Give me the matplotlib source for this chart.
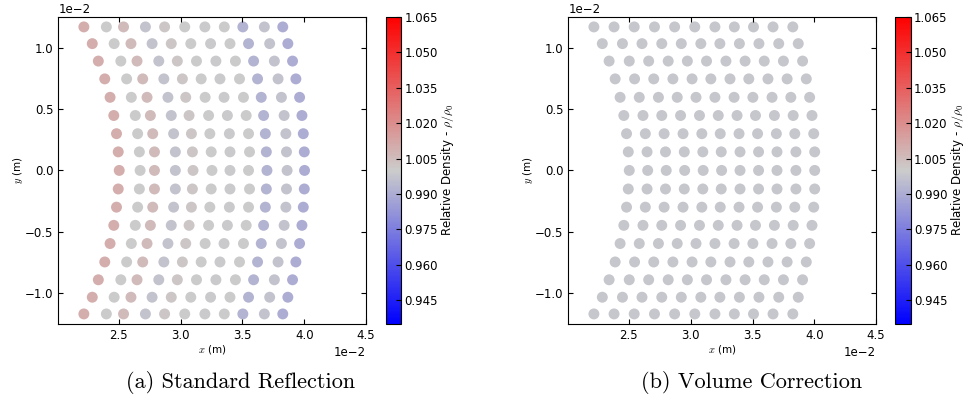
import matplotlib
matplotlib.use("Agg")
import matplotlib.pyplot as plt
import numpy as np
from matplotlib.colors import LinearSegmentedColormap, Normalize

plt.rcParams['mathtext.fontset'] = 'cm'

# particle rows (y, units of 1e-2 m), top to bottom
row_y = [1.168, 1.032, 0.890, 0.745, 0.595, 0.447, 0.299, 0.151, 0.0,
         -0.151, -0.299, -0.447, -0.595, -0.745, -0.890, -1.032, -1.168]

# x positions (units of 1e-2 m), one list per row, standard reflection
x_std = [
    [2.217, 2.399, 2.538, 2.715, 2.870, 3.033, 3.196, 3.353, 3.503, 3.677, 3.826],
    [2.285, 2.462, 2.598, 2.769, 2.924, 3.082, 3.242, 3.399, 3.549, 3.720, 3.867],
    [2.334, 2.516, 2.647, 2.823, 2.973, 3.128, 3.285, 3.443, 3.590, 3.758, 3.905],
    [2.386, 2.563, 2.693, 2.864, 3.014, 3.166, 3.318, 3.476, 3.622, 3.788, 3.932],
    [2.429, 2.601, 2.728, 2.897, 3.041, 3.198, 3.351, 3.508, 3.652, 3.815, 3.962],
    [2.459, 2.633, 2.755, 2.924, 3.068, 3.226, 3.378, 3.530, 3.671, 3.837, 3.981],
    [2.481, 2.652, 2.774, 2.943, 3.087, 3.236, 3.394, 3.549, 3.685, 3.851, 3.992],
    [2.495, 2.666, 2.788, 2.957, 3.095, 3.247, 3.399, 3.557, 3.693, 3.856, 4.000],
    [2.503, 2.672, 2.788, 2.957, 3.100, 3.253, 3.399, 3.549, 3.698, 3.861, 4.002],
    [2.495, 2.666, 2.788, 2.957, 3.095, 3.247, 3.399, 3.557, 3.693, 3.856, 4.000],
    [2.481, 2.652, 2.774, 2.943, 3.087, 3.236, 3.394, 3.549, 3.685, 3.851, 3.992],
    [2.459, 2.633, 2.755, 2.924, 3.068, 3.226, 3.378, 3.530, 3.671, 3.837, 3.981],
    [2.429, 2.601, 2.728, 2.897, 3.041, 3.198, 3.351, 3.508, 3.652, 3.815, 3.962],
    [2.386, 2.563, 2.693, 2.864, 3.014, 3.166, 3.318, 3.476, 3.622, 3.788, 3.932],
    [2.334, 2.516, 2.647, 2.823, 2.973, 3.128, 3.285, 3.443, 3.590, 3.758, 3.905],
    [2.285, 2.462, 2.598, 2.769, 2.924, 3.082, 3.242, 3.399, 3.549, 3.720, 3.867],
    [2.217, 2.399, 2.538, 2.715, 2.870, 3.033, 3.196, 3.353, 3.503, 3.677, 3.826],
]

# x positions, volume correction
x_vol = [
    [2.217, 2.380, 2.543, 2.707, 2.870, 3.033, 3.196, 3.353, 3.508, 3.666, 3.826],
    [2.285, 2.448, 2.606, 2.766, 2.924, 3.082, 3.236, 3.394, 3.552, 3.712, 3.870],
    [2.340, 2.503, 2.660, 2.818, 2.973, 3.128, 3.285, 3.440, 3.595, 3.750, 3.905],
    [2.389, 2.546, 2.701, 2.856, 3.011, 3.163, 3.318, 3.470, 3.625, 3.780, 3.935],
    [2.429, 2.584, 2.739, 2.891, 3.043, 3.196, 3.351, 3.503, 3.658, 3.810, 3.962],
    [2.459, 2.614, 2.766, 2.918, 3.071, 3.223, 3.375, 3.524, 3.677, 3.829, 3.981],
    [2.481, 2.633, 2.785, 2.938, 3.090, 3.239, 3.391, 3.541, 3.693, 3.842, 3.995],
    [2.495, 2.647, 2.796, 2.948, 3.098, 3.247, 3.399, 3.549, 3.698, 3.851, 4.003],
    [2.503, 2.652, 2.802, 2.951, 3.101, 3.250, 3.399, 3.549, 3.698, 3.851, 4.003],
    [2.495, 2.647, 2.796, 2.948, 3.098, 3.247, 3.399, 3.549, 3.698, 3.851, 4.003],
    [2.481, 2.633, 2.785, 2.938, 3.090, 3.239, 3.391, 3.541, 3.693, 3.842, 3.995],
    [2.459, 2.614, 2.766, 2.918, 3.071, 3.223, 3.375, 3.524, 3.677, 3.829, 3.981],
    [2.429, 2.584, 2.739, 2.891, 3.043, 3.196, 3.351, 3.503, 3.658, 3.810, 3.962],
    [2.389, 2.546, 2.701, 2.856, 3.011, 3.163, 3.318, 3.470, 3.625, 3.780, 3.935],
    [2.340, 2.503, 2.660, 2.818, 2.973, 3.128, 3.285, 3.440, 3.595, 3.750, 3.905],
    [2.285, 2.448, 2.606, 2.766, 2.924, 3.082, 3.236, 3.394, 3.552, 3.712, 3.870],
    [2.217, 2.380, 2.543, 2.707, 2.870, 3.033, 3.196, 3.353, 3.508, 3.666, 3.826],
]

# relative density per column
rho_std = [1.010, 1.000, 1.006, 0.997, 1.002, 1.000, 0.999, 1.000, 0.992, 0.997, 0.990]
rho_vol = [0.998, 0.998, 0.998, 0.998, 0.998, 0.998, 0.998, 0.998, 0.998, 0.998, 0.998]

cbar_ticks = [0.945, 0.960, 0.975, 0.990, 1.005, 1.020, 1.035, 1.050, 1.065]
captions = ['(a) Standard Reflection', '(b) Volume Correction']

cmap = LinearSegmentedColormap.from_list('bgr', [(0, 0, 1), (0.80, 0.80, 0.80), (1, 0, 0)])
norm = Normalize(vmin=0.935, vmax=1.065)

fig = plt.figure(figsize=(9.68, 4.01), dpi=100)

ax_pos = [[0.0602, 0.192, 0.318, 0.766], [0.5871, 0.192, 0.318, 0.766]]
cb_pos = [[0.3985, 0.192, 0.0162, 0.766], [0.9245, 0.192, 0.0168, 0.766]]
cap_x = [0.249, 0.776]

for i, (xs, rho) in enumerate([(x_std, rho_std), (x_vol, rho_vol)]):
    ax = fig.add_axes(ax_pos[i])
    X = np.array(xs) * 1e-2
    Y = np.repeat(np.array(row_y)[:, None], X.shape[1], axis=1) * 1e-2
    C = np.tile(np.array(rho), (X.shape[0], 1))
    sc = ax.scatter(X.ravel(), Y.ravel(), c=C.ravel(), cmap=cmap, norm=norm,
                    s=62, edgecolors='none')
    ax.set_xlim(2.01e-2, 4.5e-2)
    ax.set_ylim(-1.25e-2, 1.25e-2)
    ax.set_xticks([0.025, 0.030, 0.035, 0.040, 0.045])
    ax.set_yticks([-0.010, -0.005, 0.0, 0.005, 0.010])
    ax.ticklabel_format(style='sci', axis='both', scilimits=(0, 0))
    ax.tick_params(direction='in', top=True, right=True, labelsize=8.5)
    ax.xaxis.get_offset_text().set_fontsize(8.5)
    ax.yaxis.get_offset_text().set_fontsize(8.5)
    ax.set_xlabel('$x$ (m)', fontsize=7.5, labelpad=1)
    ax.set_ylabel('$y$ (m)', fontsize=7.5, labelpad=0)

    cax = fig.add_axes(cb_pos[i])
    cb = fig.colorbar(sc, cax=cax, ticks=cbar_ticks)
    cb.ax.set_yticklabels([f'{t:.3f}' for t in cbar_ticks])
    cb.ax.tick_params(direction='in', labelsize=8.5, pad=2)
    cb.set_label(r'Relative Density - $\rho/\rho_0$', fontsize=8.5, labelpad=1)

    fig.text(cap_x[i], 0.045, captions[i], ha='center', va='center',
             family='cmr10', fontsize=16)

fig.savefig('out.png', dpi=100)
